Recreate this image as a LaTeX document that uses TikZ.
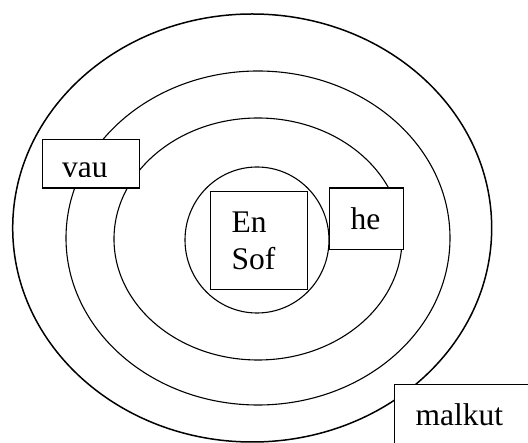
\documentclass[tikz,border=0pt]{standalone}
\usepackage{fontspec}
\setmainfont{Liberation Serif}
\usepackage{tikz}

\begin{document}
\begin{tikzpicture}[
  x=1pt, y=-1pt,
  ring/.style={draw, line width=1.1pt},
  box/.style={draw, fill=white, line width=1.3pt, align=left, anchor=north west,
    font=\fontsize{31.5}{37}\selectfont}]
  \useasboundingbox (0,0) rectangle (528,443);
  \clip (0,0) rectangle (528,443);
  % rings, outer to inner
  \draw[ring, line width=1.5pt] (252.2,228) ellipse [x radius=239.5pt, y radius=214pt];
  \draw[ring] (258,238) ellipse [x radius=192pt, y radius=167pt];
  \draw[ring] (258,239) ellipse [x radius=144pt, y radius=121pt];
  \draw[ring] (257,240) ellipse [x radius=72pt, y radius=73pt];
  % labels
  \node[box, minimum width=97pt, minimum height=98pt, text width=55pt,
    inner xsep=21pt] (ensof) at (210,191) {En\\Sof};
  \node[box, minimum width=74pt, minimum height=61.5pt, text width=32pt,
    inner xsep=21pt] (he) at (329,187.5) {he};
  \node[box, minimum width=97pt, minimum height=48.5pt, inner sep=0pt] (vau) at (42,139) {};
  \begin{scope}
    \clip (vau.north west) rectangle ([yshift=12pt]vau.south east);
    \node[font=\fontsize{31.5}{37}\selectfont, anchor=base west, inner sep=0pt] (vautext) at (62,177.5) {vau};
  \end{scope}
  \node[box, text width=100pt, inner xsep=21pt, inner ysep=19pt,
    text height=22pt, text depth=30pt] (malkut) at (394,384) {malkut};
\end{tikzpicture}
\end{document}
